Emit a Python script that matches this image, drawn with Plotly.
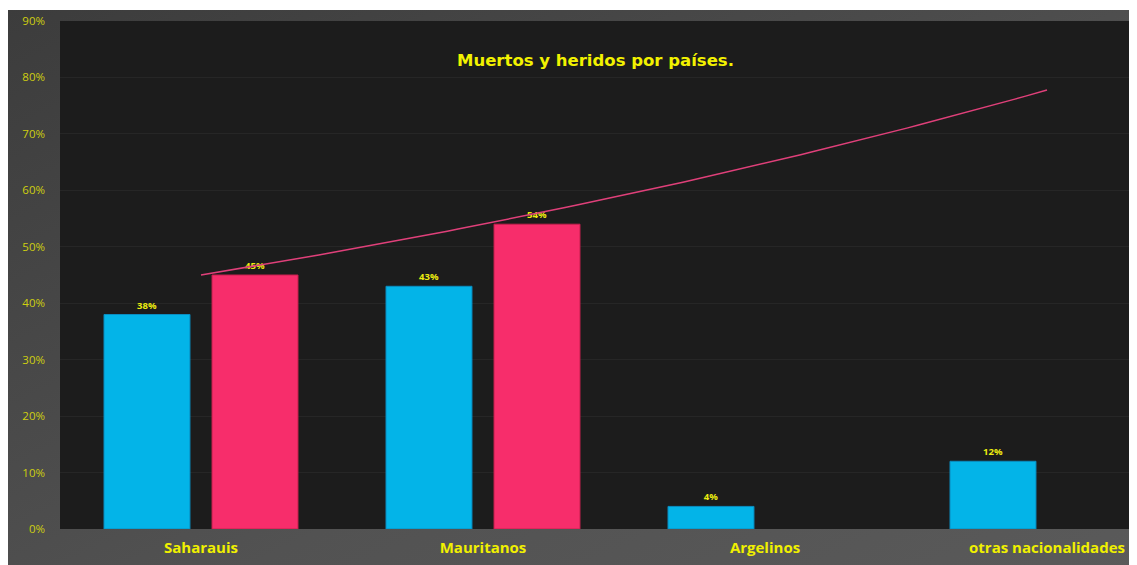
import base64
import numpy as np
import plotly.graph_objects as go

categories = ["Saharauis", "Mauritanos", "Argelinos", "otras nacionalidades"]
serie_azul = [38, 43, 4, 12]
serie_rosa = [45, 54, None, None]
y_ticks = [0, 10, 20, 30, 40, 50, 60, 70, 80, 90]
y_tick_labels = [f"{v}%" for v in y_ticks]
title_text = "Muertos y heridos por países."

W, H = 1137, 565
L, R, T, B = 52, 0, 13, 44
pw, ph = W - L - R, H - T - B

x = list(range(len(categories)))

# exponential trendline fitted to the pink series
xv = np.array([i for i, v in zip(x, serie_rosa) if v is not None], float)
yv = np.array([v for v in serie_rosa if v is not None], float)
b, a = np.polyfit(xv, np.log(yv), 1)
xs = np.linspace(0, len(categories) - 1, 80)
ys = np.exp(a + b * xs)

lab_font = dict(color="#ecec10", size=9.5, family="Open Sans", weight="bold")

fig = go.Figure()
fig.add_trace(go.Bar(
    x=x, y=serie_azul, name="serie1",
    marker=dict(color="#03b4e8", line=dict(color="#0a8cc0", width=1)),
    text=[f"{v}%" for v in serie_azul], textposition="outside",
    textfont=lab_font, cliponaxis=False,
))
fig.add_trace(go.Bar(
    x=x, y=serie_rosa, name="serie2",
    marker=dict(color="#f72d6b", line=dict(color="#c8204f", width=1)),
    text=[f"{v}%" if v is not None else "" for v in serie_rosa], textposition="outside",
    textfont=lab_font, cliponaxis=False,
))
fig.add_trace(go.Scatter(
    x=xs, y=ys, mode="lines", line=dict(color="#e0407a", width=1.5),
    hoverinfo="skip", showlegend=False,
))

svg = (
    '<svg xmlns="http://www.w3.org/2000/svg" width="1137" height="563">'
    '<defs><linearGradient id="g" x1="0" y1="0" x2="1" y2="1">'
    '<stop offset="0" stop-color="#3c3c3c"/>'
    '<stop offset="0.6" stop-color="#525252"/>'
    '<stop offset="1" stop-color="#5a5a5a"/>'
    '</linearGradient></defs>'
    '<rect width="1137" height="563" fill="url(#g)"/></svg>'
)
src = "data:image/svg+xml;base64," + base64.b64encode(svg.encode()).decode()

x0 = -L / pw
ytop = (H - B - 2) / ph
ybot = -B / ph
fig.add_layout_image(dict(
    source=src, xref="paper", yref="paper", x=x0, y=ytop,
    sizex=1 - x0, sizey=ytop - ybot, xanchor="left", yanchor="top",
    sizing="stretch", layer="below",
))
fig.add_shape(type="rect", xref="paper", yref="paper", x0=0, x1=1, y0=0, y1=1,
              fillcolor="#1c1c1c", line=dict(width=0), layer="below")

fig.add_annotation(
    text=title_text, xref="paper", yref="paper", x=(595 - 8 - L) / pw, y=(H - B - 53) / ph,
    showarrow=False, xanchor="center", yanchor="middle",
    font=dict(color="#f2f200", size=16.5, family="DejaVu Sans", weight="bold"),
)

fig.update_layout(
    width=W, height=H, autosize=False,
    margin=dict(l=L, r=R, t=T, b=B),
    paper_bgcolor="white", plot_bgcolor="rgba(0,0,0,0)",
    barmode="group", bargap=0.234, bargroupgap=0.204,
    showlegend=False,
    xaxis=dict(
        range=[-0.5, -0.5 + pw / 282], tickvals=x, ticktext=categories,
        showgrid=False, zeroline=False, showline=False, ticks="",
        tickfont=dict(color="#f0f000", size=15, family="Open Sans", weight="bold"),
        ticklabelstandoff=8,
    ),
    yaxis=dict(
        range=[0, 90], tickvals=y_ticks, ticktext=y_tick_labels,
        showgrid=True, gridcolor="#262626", gridwidth=1,
        zeroline=False, showline=False, ticks="",
        tickfont=dict(color="#cfcf10", size=11.5, family="Open Sans"),
        ticklabelstandoff=14,
    ),
)

fig.write_html("out.html")
